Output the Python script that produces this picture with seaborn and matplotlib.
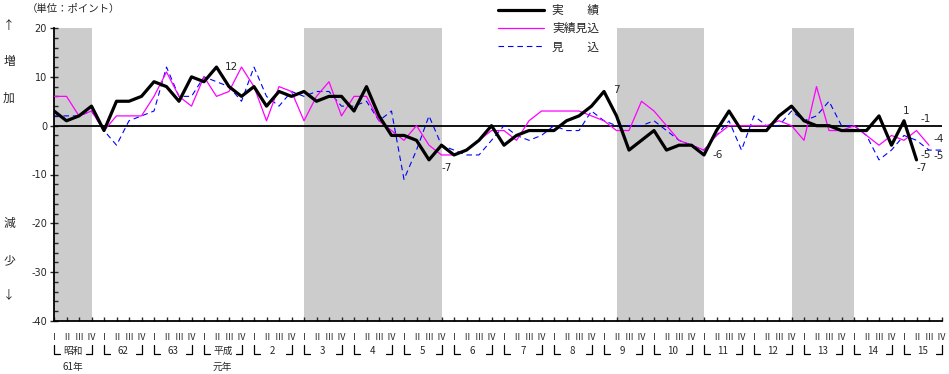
import matplotlib
matplotlib.use('Agg')
import matplotlib.pyplot as plt
import seaborn as sns
import numpy as np

# quarterly data, 昭和61 I .. 平成15 IV
jisseki = [3, 1, 2, 4, -1, 5, 5, 6, 9, 8,
           5, 10, 9, 12, 8, 6, 8, 4, 7, 6,
           7, 5, 6, 6, 3, 8, 2, -2, -2, -3,
           -7, -4, -6, -5, -3, 0, -4, -2, -1, -1,
           -1, 1, 2, 4, 7, 2, -5, -3, -1, -5,
           -4, -4, -6, -1, 3, -1, -1, -1, 2, 4,
           1, 0, 0, -1, -1, -1, 2, -4, 1, -7]
jisseki_mikomi = [6, 6, 2, 3, -1, 2, 2, 2, 6, 11,
                  6, 4, 10, 6, 7, 12, 8, 1, 8, 7,
                  1, 6, 9, 2, 6, 6, 1, -1, -3, 0,
                  -4, -6, -6, -5, -3, -1, -1, -3, 1, 3,
                  3, 3, 3, 2, 1, -1, -1, 5, 3, 0,
                  -3, -4, -5, -2, 0, 0, 0, 0, 1, 0,
                  -3, 8, -1, -1, 0, -2, -4, -2, -3, -1, -4]
mikomi = [2, 2, 2, 3, -1, -4, 1, 2, 3, 12,
          6, 6, 10, 9, 8, 5, 12, 6, 4, 7,
          6, 7, 7, 4, 4, 5, 1, 3, -11, -5,
          2, -4, -5, -6, -6, -3, 0, -2, -3, -2,
          0, -1, -1, 3, 1, 0, 0, 0, 1, -1,
          -3, -4, -5, -2, 1, -5, 2, 0, 0, 3,
          1, 2, 5, 0, 0, -2, -7, -5, -2, -3, -5, -5]

quarter_names = ['Ⅰ', 'Ⅱ', 'Ⅲ', 'Ⅳ']
year_labels = ['昭和', '62', '63', '平成', '2', '3', '4', '5', '6',
               '7', '8', '9', '10', '11', '12', '13', '14', '15']
# recession periods (quarter index start, end)
shade_periods = [(0, 3), (20, 31), (45, 52), (59, 64)]

# value labels: (x index, y, text)
value_labels = [(14.2, 12.1, '12'), (31.4, -8.6, '-7'), (45.0, 7.3, '7'),
                (53.1, -6.0, '-6'), (68.2, 3.0, '1'), (69.7, 1.3, '-1'),
                (70.8, -2.8, '-4'), (69.7, -6.0, '-5'), (70.8, -6.2, '-5'),
                (69.4, -8.6, '-7')]

sns.set_style('white')
plt.rcParams['font.family'] = ['Noto Sans CJK JP', 'DejaVu Sans']
plt.rcParams['axes.unicode_minus'] = False

W, H = 949, 374
fig = plt.figure(figsize=(W / 100, H / 100), dpi=100)
ax = fig.add_axes([54 / W, 1 - 321 / H, 887.5 / W, 293 / H])

n_q = len(year_labels) * 4
for a, b in shade_periods:
    ax.axvspan(a, b, color='#cccccc', lw=0, zorder=0)
ax.axhline(0, color='black', lw=1.3, zorder=1)

sns.lineplot(x=np.arange(len(mikomi)), y=mikomi, ax=ax, color='#0000ff',
             linewidth=0.8, linestyle=(0, (5, 3.5)), errorbar=None,
             label='見　　込', zorder=2)
sns.lineplot(x=np.arange(len(jisseki_mikomi)), y=jisseki_mikomi, ax=ax,
             color='#ff00ff', linewidth=0.9, errorbar=None,
             label='実績見込', zorder=3)
sns.lineplot(x=np.arange(len(jisseki)), y=jisseki, ax=ax, color='black',
             linewidth=2.3, errorbar=None, label='実　　績', zorder=4)

for x, y, t in value_labels:
    ax.text(x, y, t, ha='center', va='center', fontsize=7.5,
            family='DejaVu Sans')

ax.set_xlim(0, n_q - 1)
ax.set_ylim(-40, 20)
ax.set_yticks(range(-40, 21, 10))
ax.set_yticks(range(-40, 21, 2), minor=True)
ax.set_yticklabels([str(v) for v in range(-40, 21, 10)],
                   family='DejaVu Sans', fontsize=7)
ax.tick_params(axis='y', which='major', direction='inout', length=6,
               width=1, pad=2, left=True)
ax.tick_params(axis='y', which='minor', direction='in', length=3,
               width=1, left=True)
ax.set_xticks(range(n_q))
ax.set_xticklabels([])
ax.tick_params(axis='x', which='major', direction='in', length=3,
               width=1, bottom=True)
for s in ['top', 'right']:
    ax.spines[s].set_visible(False)
for s in ['left', 'bottom']:
    ax.spines[s].set_color('black')
    ax.spines[s].set_linewidth(1.3)

# x axis labels
tr = ax.get_xaxis_transform()
for i in range(n_q):
    ax.text(i, -16 / 293, quarter_names[i % 4], transform=tr, ha='center',
            va='center', fontsize=6.5)
y_top, y_bot = -24 / 293, -33 / 293
for k, lab in enumerate(year_labels):
    c = 4 * k + 1.5
    ax.text(c, -30 / 293, lab, transform=tr, ha='center', va='center',
            fontsize=7)
    # year brackets
    x0, x1 = 4 * k, 4 * k + 3
    ax.plot([x0, x0, x0 + 0.45], [y_top, y_bot, y_bot], transform=tr,
            color='black', lw=0.9, clip_on=False)
    ax.plot([x1 - 0.45, x1, x1], [y_bot, y_bot, y_top], transform=tr,
            color='black', lw=0.9, clip_on=False)
ax.text(1.5, -46 / 293, '61年', transform=tr, ha='center', va='center',
        fontsize=7)
ax.text(13.5, -46 / 293, '元年', transform=tr, ha='center', va='center',
        fontsize=7)

# y axis annotations
fig.text(73 / W, 1 - 9 / H, '（単位：ポイント）', ha='center', va='center',
         fontsize=7.5)
for ypx, t in [(25, '↑'), (62, '増'), (98, '加'), (223, '減'), (261, '少'),
               (295, '↓')]:
    fig.text(9 / W, 1 - ypx / H, t, ha='center', va='center', fontsize=8.5)

handles, labels = ax.get_legend_handles_labels()
order = [2, 1, 0]
ax.legend([handles[i] for i in order], [labels[i] for i in order],
          loc='upper left', bbox_to_anchor=(498 / W, 1 - 4 / H),
          bbox_transform=fig.transFigure, frameon=False, fontsize=8.5,
          handlelength=3.9, handletextpad=0.7, labelspacing=0.45,
          borderpad=0, borderaxespad=0)

fig.savefig('out.png', dpi=100)
